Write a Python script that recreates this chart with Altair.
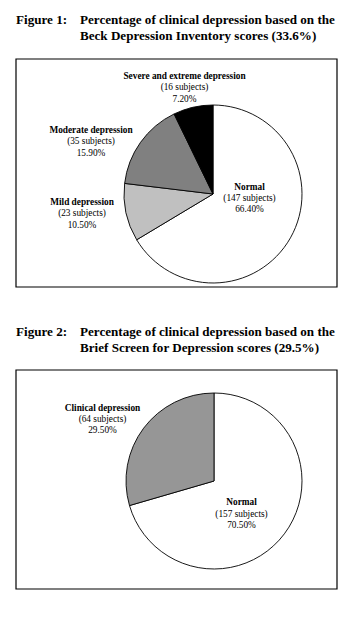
import altair as alt
import pandas as pd

# ---- data ----
fig1_categories = ["Normal", "Mild depression", "Moderate depression", "Severe and extreme depression"]
fig1_subjects = [147, 23, 35, 16]
fig1_percent = [66.4, 10.5, 15.9, 7.2]

fig2_categories = ["Normal", "Clinical depression"]
fig2_subjects = [157, 64]
fig2_percent = [70.5, 29.5]

fig1_title = ["Figure 1:", "Percentage of clinical depression based on the",
              "Beck Depression Inventory scores (33.6%)"]
fig2_title = ["Figure 2:", "Percentage of clinical depression based on the",
              "Brief Screen for Depression scores (29.5%)"]

all_categories = ["Normal", "Mild depression", "Moderate depression",
                  "Severe and extreme depression", "Clinical depression"]
slice_colors = ["#ffffff", "#c0c0c0", "#808080", "#000000", "#969696"]

FONT = "Liberation Serif"


def table(cats, subj, pct):
    return pd.DataFrame({
        "category": cats,
        "subjects": subj,
        "percent": pct,
        "order": list(range(len(cats))),
        "subj_text": [f"({s} subjects)" for s in subj],
        "pct_text": [f"{p:.2f}%" for p in pct],
    })


df1 = table(fig1_categories, fig1_subjects, fig1_percent)
df2 = table(fig2_categories, fig2_subjects, fig2_percent)

color_scale = alt.Scale(domain=all_categories, range=slice_colors)


def box(x1, y1, x2, y2):
    return alt.Chart(pd.DataFrame({"a": [0]})).mark_rect(
        fillOpacity=0, stroke="black", strokeWidth=1.2
    ).encode(x=alt.value(x1), x2=alt.value(x2), y=alt.value(y1), y2=alt.value(y2))


def pie(df, cx, cy, r):
    return alt.Chart(df).mark_arc(outerRadius=r, stroke="black", strokeWidth=0.9).encode(
        theta=alt.Theta("percent:Q", stack=True),
        color=alt.Color("category:N", scale=color_scale, legend=None),
        order=alt.Order("order:Q"),
        x=alt.value(cx),
        y=alt.value(cy),
    )


def label(df, cat, x, y, gap=11.3):
    base = alt.Chart(df).transform_filter(alt.datum.category == cat)
    common = dict(font=FONT, fontSize=9.3, align="center", baseline="middle", color="black")
    l1 = base.mark_text(fontWeight="bold", **common).encode(
        text="category:N", x=alt.value(x), y=alt.value(y))
    l2 = base.mark_text(**common).encode(
        text="subj_text:N", x=alt.value(x), y=alt.value(y + gap))
    l3 = base.mark_text(**common).encode(
        text="pct_text:N", x=alt.value(x), y=alt.value(y + 2 * gap))
    return [l1, l2, l3]


def title(lines, y):
    t = pd.DataFrame({"line": lines})
    common = dict(font=FONT, fontSize=13.1, fontWeight="bold", align="left",
                  baseline="middle", color="black")
    a = alt.Chart(t).transform_filter(alt.datum.line == lines[0]).mark_text(**common).encode(
        text="line:N", x=alt.value(8), y=alt.value(y))
    b = alt.Chart(t).transform_filter(alt.datum.line == lines[1]).mark_text(**common).encode(
        text="line:N", x=alt.value(72), y=alt.value(y))
    c = alt.Chart(t).transform_filter(alt.datum.line == lines[2]).mark_text(**common).encode(
        text="line:N", x=alt.value(72), y=alt.value(y + 16))
    return [a, b, c]


layers = []
layers += title(fig1_title, 12)
layers.append(box(8, 51, 329, 279))
layers.append(pie(df1, 205, 186, 89))
layers += label(df1, "Severe and extreme depression", 176.5, 68)
layers += label(df1, "Moderate depression", 83, 122)
layers += label(df1, "Mild depression", 74, 194)
layers += label(df1, "Normal", 241.5, 178.7)

layers += title(fig2_title, 323.7)
layers.append(box(8, 362, 329, 581))
layers.append(pie(df2, 206, 473, 88))
layers += label(df2, "Clinical depression", 94.5, 399.5)
layers += label(df2, "Normal", 233.5, 494.3)

chart = alt.layer(*layers).properties(
    width=348, height=601, autosize="none", padding=0
).configure_view(stroke=None)

chart.save("out.html", embed_options={"renderer": "svg", "actions": False})
